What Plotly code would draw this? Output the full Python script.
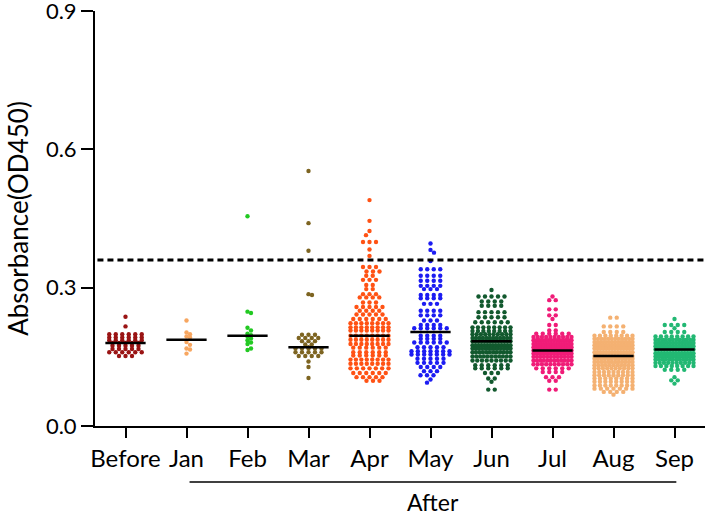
import numpy as np
import plotly.graph_objects as go

categories = ["Before", "Jan", "Feb", "Mar", "Apr", "May", "Jun", "Jul", "Aug", "Sep"]
colors = ["#9A1414", "#F7A660", "#22C922", "#7D6421", "#FF5214", "#1C1CF2",
          "#12592E", "#F01C78", "#F4B172", "#22B873"]

before_levels = [0.237, 0.216, 0.199, 0.192, 0.186, 0.180, 0.174, 0.167, 0.160, 0.152]
before_counts = [1, 1, 6, 6, 6, 5, 5, 5, 6, 3]

jan_levels = [0.229, 0.203, 0.199, 0.194, 0.192, 0.182, 0.176, 0.168, 0.166, 0.157]
jan_counts = [1] * 10

feb_levels = [0.455, 0.248, 0.245, 0.213, 0.207, 0.200, 0.197, 0.194, 0.190, 0.186,
              0.181, 0.178, 0.168, 0.165]
feb_counts = [1] * 14

mar_levels = [0.553, 0.440, 0.380, 0.286, 0.284, 0.198, 0.191, 0.184, 0.177, 0.171,
              0.168, 0.160, 0.152, 0.140, 0.128, 0.104]
mar_counts = [1, 1, 1, 1, 1, 3, 4, 3, 2, 1, 5, 5, 4, 1, 1, 1]

apr_levels = [0.490, 0.445, 0.423, 0.414, 0.399, 0.383, 0.369, 0.345, 0.335, 0.326,
              0.317, 0.306, 0.297, 0.286, 0.279, 0.268, 0.258, 0.250, 0.242, 0.232,
              0.223, 0.214, 0.207, 0.196, 0.187, 0.178, 0.170, 0.160, 0.153, 0.144,
              0.135, 0.125, 0.115, 0.106, 0.098]
apr_counts = [1, 1, 1, 1, 3, 1, 1, 3, 3, 2, 3, 2, 2, 3, 4, 3, 5, 4, 5, 6,
              8, 8, 8, 8, 8, 8, 6, 6, 6, 8, 8, 7, 6, 5, 3]

may_levels = [0.396, 0.382, 0.376, 0.358, 0.340, 0.326, 0.315, 0.304, 0.297, 0.284,
              0.277, 0.265, 0.250, 0.240, 0.229, 0.219, 0.212, 0.196, 0.189, 0.181,
              0.171, 0.162, 0.155, 0.146, 0.137, 0.128, 0.119, 0.110, 0.101, 0.094]
may_counts = [1, 1, 1, 1, 4, 4, 4, 4, 3, 4, 4, 3, 4, 4, 3, 4, 6, 4, 4, 6,
              5, 7, 7, 5, 5, 4, 3, 3, 1, 1]

jun_levels = [0.295, 0.281, 0.270, 0.261, 0.247, 0.236, 0.225, 0.214, 0.206, 0.199,
              0.191, 0.184, 0.175, 0.168, 0.160, 0.151, 0.142, 0.132, 0.125, 0.115,
              0.103, 0.096, 0.079]
jun_counts = [1, 5, 4, 4, 5, 5, 6, 8, 8, 10, 12, 13, 14, 13, 12, 11, 9, 6, 6, 3, 2, 1, 2]

jul_levels = [0.281, 0.273, 0.253, 0.240, 0.232, 0.219, 0.207, 0.200, 0.193, 0.186,
              0.178, 0.171, 0.164, 0.157, 0.150, 0.142, 0.134, 0.125, 0.117, 0.106,
              0.098, 0.079]
jul_counts = [1, 2, 2, 2, 1, 2, 2, 6, 10, 14, 16, 16, 14, 14, 12, 12, 10, 6, 4, 3, 2, 2]

aug_levels = [0.235, 0.216, 0.204, 0.196, 0.189, 0.182, 0.175, 0.168, 0.160, 0.152,
              0.146, 0.139, 0.132, 0.125, 0.117, 0.110, 0.103, 0.096, 0.088, 0.081,
              0.074, 0.068]
aug_counts = [2, 4, 4, 8, 12, 14, 14, 14, 14, 14, 12, 12, 11, 10, 9, 9, 8, 8, 8, 7, 4, 1]

sep_levels = [0.232, 0.219, 0.212, 0.204, 0.194, 0.187, 0.180, 0.173, 0.166, 0.158,
              0.151, 0.144, 0.137, 0.130, 0.122, 0.106, 0.099, 0.092]
sep_counts = [1, 4, 1, 4, 8, 12, 14, 14, 14, 14, 14, 12, 10, 8, 4, 1, 2, 1]

cutoff = 0.36

groups = [
    (before_levels, before_counts), (jan_levels, jan_counts), (feb_levels, feb_counts),
    (mar_levels, mar_counts), (apr_levels, apr_counts), (may_levels, may_counts),
    (jun_levels, jun_counts), (jul_levels, jul_counts), (aug_levels, aug_counts),
    (sep_levels, sep_counts),
]

# ---- row layout (Prism-like scatter dot plot), in pixel space ----
PX_PER_CAT = 61.0
PX_PER_VAL = 415.0 / 0.9
DOT_GAP = 6.5
HALF_W = 19.0


def row_offsets(levels, counts):
    xs, ys = [], []
    prev_y, prev_odd = None, False
    for v, n in zip(levels, counts):
        step = DOT_GAP if n == 1 else min(DOT_GAP, 2 * HALF_W / (n - 1))
        offs = (np.arange(n) - (n - 1) / 2.0) * step
        y = v * PX_PER_VAL
        # stagger neighbouring single/odd rows that would sit on top of each other
        if prev_y is not None and abs(prev_y - y) < 5 and n % 2 == 1 and prev_odd and n <= 3:
            offs = offs + (3.5 if len(xs) % 2 == 0 else -3.5)
            prev_odd = False
        else:
            prev_odd = (n % 2 == 1)
        prev_y = y
        xs.extend(offs / PX_PER_CAT)
        ys.extend([v] * n)
    return np.array(xs), np.array(ys)


fig = go.Figure()
FONT = "Lato, 'Noto Sans', sans-serif"

for i, (lv, ct) in enumerate(groups):
    xo, vals = row_offsets(lv, ct)
    fig.add_trace(go.Scatter(
        x=i + xo, y=vals, mode="markers",
        marker=dict(size=4.4, color=colors[i], line=dict(width=0)),
        showlegend=False, hoverinfo="y"))

for i, (lv, ct) in enumerate(groups):
    vals = np.repeat(np.array(lv, dtype=float), ct)
    med = float(np.median(vals))
    fig.add_trace(go.Scatter(
        x=[i - 0.33, i + 0.33], y=[med, med], mode="lines",
        line=dict(color="black", width=2.5), showlegend=False, hoverinfo="skip"))

fig.add_shape(type="line", xref="x", yref="y", x0=-0.46, x1=9.5, y0=cutoff, y1=cutoff,
              line=dict(color="black", width=3, dash="6px,4px"))

# "After" bracket
fig.add_shape(type="line", xref="x", yref="paper", x0=1.05, x1=9.03, y0=-0.135, y1=-0.135,
              line=dict(color="black", width=1.5))
fig.add_annotation(x=5.04, y=-0.184, xref="x", yref="paper", text="After", showarrow=False,
                   font=dict(size=23, color="black", family=FONT), yanchor="middle")

fig.update_layout(
    width=709, height=518,
    margin=dict(l=95, r=4, t=11, b=92),
    plot_bgcolor="white", paper_bgcolor="white",
    font=dict(family=FONT, color="black"),
    xaxis=dict(range=[-0.5, 9.5], tickmode="array", tickvals=list(range(10)), ticktext=categories,
               showline=True, linecolor="black", linewidth=2, ticks="outside", ticklen=10,
               tickwidth=2, tickcolor="black", tickfont=dict(size=24), showgrid=False,
               zeroline=False, automargin=False, ticklabeloverflow="allow"),
    yaxis=dict(range=[0, 0.9002], tickmode="array", tickvals=[0, 0.3, 0.6, 0.9],
               ticktext=["0.0", "0.3", "0.6", "0.9"], showline=True, linecolor="black",
               linewidth=2, ticks="outside", ticklen=12, tickwidth=2, tickcolor="black",
               tickfont=dict(size=22), showgrid=False, zeroline=False, automargin=False,
               ticklabeloverflow="allow",
               title=dict(text="Absorbance(OD450)", font=dict(size=26), standoff=10)),
)

fig.write_html("out.html", config={"displayModeBar": False},
               post_script="document.body.style.margin='0px';")
